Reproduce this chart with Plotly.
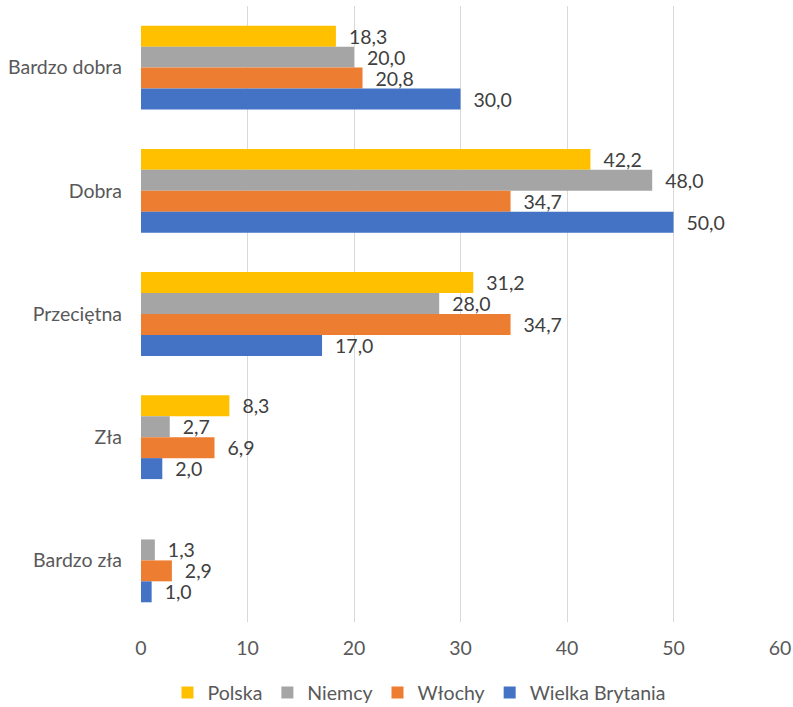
import plotly.graph_objects as go

categories = ["Bardzo dobra", "Dobra", "Przeciętna", "Zła", "Bardzo zła"]
series_names = ["Polska", "Niemcy", "Włochy", "Wielka Brytania"]
polska = [18.3, 42.2, 31.2, 8.3, None]
niemcy = [20.0, 48.0, 28.0, 2.7, 1.3]
wlochy = [20.8, 34.7, 34.7, 6.9, 2.9]
wielka_brytania = [30.0, 50.0, 17.0, 2.0, 1.0]
colors = ["#FFC000", "#A5A5A5", "#ED7D31", "#4472C4"]
x_ticks = [0, 10, 20, 30, 40, 50, 60]

FONT = "Lato"
FS = 19.5

def fmt(v):
    return "" if v is None else "\u00a0\u00a0" + f"{v:.1f}".replace(".", ",")

fig = go.Figure()
for name, vals, col in zip(series_names, [polska, niemcy, wlochy, wielka_brytania], colors):
    fig.add_trace(go.Bar(
        y=categories, x=vals, name=name, orientation="h",
        marker=dict(color=col, line=dict(width=0)),
        text=[fmt(v) for v in vals], textposition="outside",
        textfont=dict(family=FONT, size=FS, color="#404040"),
        constraintext="none",
        cliponaxis=False,
    ))

fig.update_layout(
    barmode="group", bargap=0.32, bargroupgap=0,
    width=793, height=707,
    margin=dict(l=141, r=13, t=6, b=85, autoexpand=False),
    plot_bgcolor="white", paper_bgcolor="white",
    font=dict(family=FONT, size=FS, color="#595959"),
    separators=", ",
    xaxis=dict(range=[0, 60], tickvals=x_ticks, showgrid=True, gridcolor="#D9D9D9",
               gridwidth=1, zeroline=False, showline=False, ticks="", automargin=False,
               ticklabelstandoff=12, tickfont=dict(family=FONT, size=FS, color="#595959")),
    yaxis=dict(autorange="reversed", showgrid=False, zeroline=False, showline=False,
               ticks="", ticklabelstandoff=18, automargin=False,
               tickfont=dict(family=FONT, size=FS, color="#595959")),
    legend=dict(orientation="h", x=0.435, xanchor="center", y=-0.115, yanchor="middle",
                font=dict(family=FONT, size=FS, color="#595959"), traceorder="normal",
                itemwidth=30),
    showlegend=True,
)

fig.write_html("out.html", config={"displayModeBar": False},
               post_script="document.body.style.margin='0';document.body.style.overflow='hidden';")
